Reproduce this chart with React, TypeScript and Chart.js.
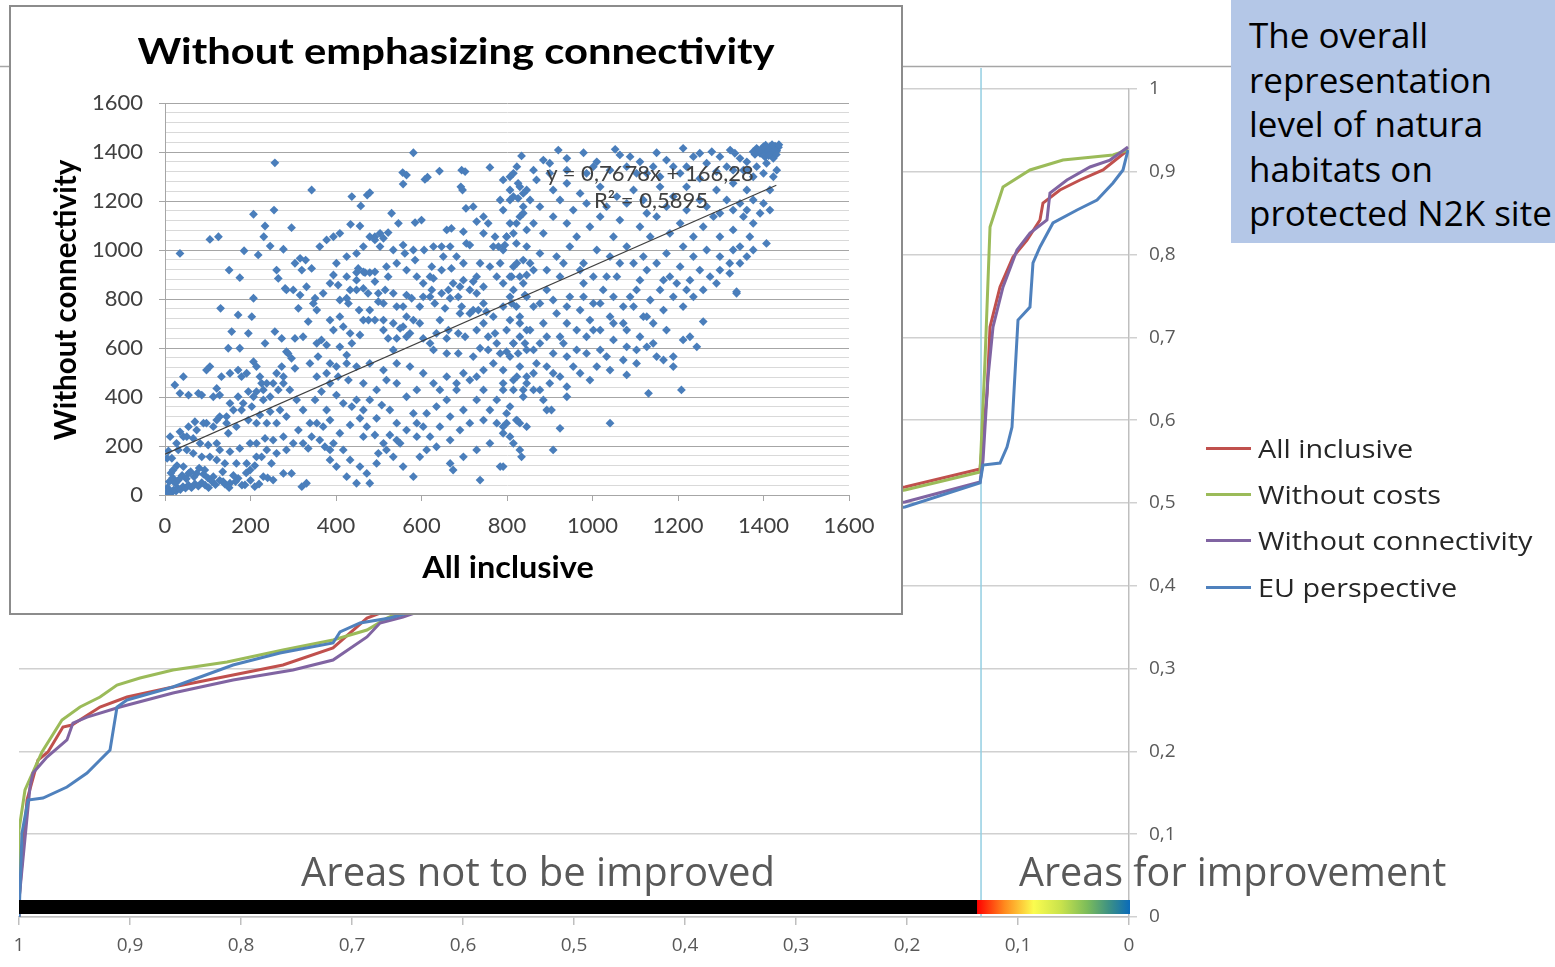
import React, { useEffect, useRef } from "react";
import { Chart, registerables } from "chart.js";
Chart.register(...registerables);

// ---------- main chart data (x runs from 1 to 0) ----------
const seriesNames = ["All inclusive", "Without costs", "Without connectivity", "EU perspective"];
const seriesColors = ["#c0504d", "#9bbb59", "#8064a2", "#4f81bd"];
const seriesOrder = [3, 2, 1, 0];

const allInclusive: [number, number][] = [
  [1.0, 0], [1.0, 0.0205], [0.9928, 0.1413], [0.9829, 0.1896], [0.9739, 0.1993], [0.9604, 0.2295],
  [0.9523, 0.2319], [0.927, 0.2536], [0.9027, 0.2657], [0.8613, 0.2778], [0.8072, 0.2923],
  [0.7622, 0.3043], [0.7171, 0.3249], [0.6865, 0.3611], [0.6, 0.405], [0.5, 0.448], [0.4, 0.48],
  [0.3, 0.5], [0.2018, 0.5193], [0.1342, 0.5411], [0.1279, 0.6329], [0.1252, 0.7126], [0.1162, 0.7609],
  [0.1045, 0.7971], [0.0919, 0.8176], [0.0802, 0.8418], [0.0775, 0.8623], [0.0622, 0.878],
  [0.0441, 0.8901], [0.0234, 0.9022], [0.0009, 0.9263],
];
const withoutCosts: [number, number][] = [
  [1.0, 0], [1.0, 0.1051], [0.9946, 0.1534], [0.9793, 0.1993], [0.9613, 0.2379], [0.945, 0.2536],
  [0.927, 0.2657], [0.9117, 0.2802], [0.891, 0.2886], [0.8613, 0.2983], [0.8126, 0.308],
  [0.7622, 0.3225], [0.7171, 0.3345], [0.6865, 0.3466], [0.6685, 0.3611], [0.6, 0.4], [0.5, 0.445],
  [0.4, 0.477], [0.3, 0.497], [0.2018, 0.5157], [0.1342, 0.5374], [0.1297, 0.6727], [0.1252, 0.8333],
  [0.1135, 0.8816], [0.0892, 0.9022], [0.0595, 0.9142], [0.0144, 0.9203], [0.0009, 0.9263],
];
const withoutConnectivity: [number, number][] = [
  [1.0, 0], [1.0, 0.0205], [0.9901, 0.157], [0.9874, 0.1739], [0.9748, 0.1932], [0.9568, 0.2138],
  [0.9514, 0.2343], [0.9387, 0.2415], [0.909, 0.2536], [0.8613, 0.2705], [0.8072, 0.2862],
  [0.7532, 0.2983], [0.7171, 0.3104], [0.6865, 0.3382], [0.6748, 0.3551], [0.6541, 0.3623],
  [0.55, 0.41], [0.45, 0.445], [0.35, 0.472], [0.28, 0.488], [0.2018, 0.5012], [0.1342, 0.5254],
  [0.1315, 0.5519], [0.127, 0.6522], [0.1225, 0.7126], [0.1135, 0.7609], [0.1009, 0.8056],
  [0.0892, 0.8261], [0.0739, 0.8418], [0.0712, 0.8744], [0.0559, 0.8901], [0.0351, 0.9058],
  [0.0171, 0.9142], [0.0009, 0.93],
];
const euPerspective: [number, number][] = [
  [1.0, 0], [0.9973, 0.1014], [0.9919, 0.1413], [0.9784, 0.1437], [0.9568, 0.157], [0.9387, 0.1739],
  [0.927, 0.1896], [0.918, 0.2017], [0.9117, 0.2536], [0.9027, 0.2621], [0.8613, 0.2778],
  [0.8072, 0.3043], [0.7649, 0.3188], [0.7171, 0.3309], [0.7108, 0.3442], [0.6928, 0.3551],
  [0.6658, 0.3611], [0.55, 0.405], [0.45, 0.44], [0.35, 0.467], [0.28, 0.482], [0.2018, 0.4952],
  [0.1342, 0.5242], [0.1315, 0.5459], [0.1162, 0.5483], [0.1099, 0.5676], [0.1054, 0.5918],
  [0.1, 0.721], [0.0892, 0.7367], [0.0865, 0.7899], [0.0802, 0.8092], [0.0685, 0.8382],
  [0.0468, 0.8539], [0.0288, 0.8659], [0.0144, 0.8865], [0.0054, 0.9022], [0.0009, 0.9263],
];
const seriesData = [allInclusive, withoutCosts, withoutConnectivity, euPerspective];
const thresholdX = 0.1333;

// ---------- inset scatter data ----------
const trendLine: [number, number][] = [[0, 166.28], [1430, 1264.2]];
const equationText = "y = 0,7678x + 166,28";
const r2Text = "R² = 0,5895";

const scatterPoints: [number, number][] = [
  [35,986],[257,1356],[343,1245],[105,1043],[125,1054],[207,1146],[255,1163],[234,1098],[231,1054],[296,1091],[246,1016],[277,1003],[218,980],[185,997],[437,1218],[458,1180],[473,1224],[479,1234],[434,1105],[456,1098],[394,1054],[378,1041],[362,1014],[409,1068],[479,1054],[491,1041],[503,1068],[522,1071],[530,1150],[546,1109],[556,1316],[565,1306],[557,1269],[581,1397],[585,1112],[600,1122],[608,1288],[614,1297],[642,1322],[694,1326],[702,1320],[692,1258],[696,1245],[704,1170],[760,1337],[784,1204],[807,1245],[826,1272],[834,1384],[807,1204],[826,1211],[838,1177],[830,1136],[815,1068],[822,1109],[756,1109],[772,1054],[780,1014],[795,1020],[729,1116],[698,1075],[705,1027],[713,1020],[628,1014],[647,1014],[659,1082],[670,1088],[581,1000],[606,1000],[557,1020],[561,986],[585,959],[511,1048],[491,1054],
  [130,762],[150,918],[175,887],[207,803],[203,728],[171,735],[156,667],[195,660],[148,599],[175,599],[234,619],[257,667],[273,639],[261,918],[265,884],[281,843],[284,837],[300,837],[304,946],[316,966],[329,959],[320,918],[343,925],[331,850],[316,816],[351,803],[347,782],[312,762],[335,708],[323,646],[304,639],[284,585],[288,578],[386,714],[409,728],[417,687],[394,673],[366,633],[355,619],[378,612],[409,605],[425,571],[433,660],[437,619],[456,653],[464,714],[476,714],[491,714],[479,755],[454,755],[429,782],[425,803],[409,796],[448,837],[464,843],[448,877],[475,823],[479,908],[468,908],[448,908],[452,925],[491,871],[499,823],[515,837],[522,891],[518,932],[534,823],[542,769],[565,816],[577,803],[557,769],[565,728],[581,714],[596,701],[604,639],[565,646],[542,639],[522,639],[511,673],[511,714],[534,592],[550,680],[624,932],[628,884],[647,918],[670,925],[674,864],[663,837],[690,850],[698,877],[721,871],[713,837],[686,809],[729,823],[745,782],[733,755],[752,748],[713,741],[690,741],[655,762],[631,782],[620,809],[643,714],[663,673],[635,660],[620,619],[659,639],[686,660],[702,646],[729,673],[756,646],[772,660],[776,619],[756,592],[737,599],[721,565],[686,578],[659,578],[628,592],[807,714],[822,769],[842,816],[815,837],[791,864],[811,891],[846,898],[838,959],[815,932],[784,946],[791,1000],[842,619],[826,578],[799,585],
  [394,898],[405,857],[425,891],[433,837],[464,911],[491,911],[499,789],[511,782],[534,701],[557,687],[573,660],[596,769],[604,809],[624,837],[647,823],[667,803],[694,769],[721,755],[745,701],[768,728],[791,769],[811,782],[830,701],[846,673],[815,619],[784,578],[768,537],[745,510],[713,469],[682,429],[659,388],[635,361],[612,333],[589,293],[565,265],[542,224],[518,184],[495,129],[472,88],[448,48],[425,75],[401,116],[386,184],[362,224],[339,293],[323,347],[308,388],[292,429],[277,456],[253,456],[230,429],[207,401],[183,374],[160,347],[144,320],[121,306],[97,293],[74,265],[51,238],[27,211],
  [355,755],[370,823],[386,864],[401,946],[425,973],[448,986],[464,1014],[503,1014],[534,1000],[542,946],[565,918],[589,891],[604,864],[620,891],[651,973],[682,973],[737,946],[760,932],[776,891],[745,850],[729,891],[698,946],[667,1014],[745,1068],[768,1014],[799,1054],[822,1027],[846,1082],[745,1136],[721,1177],[791,1163],[846,1245],[815,1313],[791,1286],
  [43,483],[23,449],[35,415],[55,408],[78,415],[97,510],[105,524],[86,408],[113,401],[121,435],[128,408],[132,483],[152,497],[171,510],[179,483],[191,497],[207,544],[214,524],[222,483],[226,456],[238,456],[261,497],[273,524],[296,558],[304,517],[277,483],[265,429],[246,401],[230,388],[214,422],[195,422],[171,401],[152,374],[179,347],[203,361],[222,327],[246,340],[269,347],[284,320],[261,293],[238,293],[214,293],[195,306],[167,279],[148,252],[144,293],[128,320],[113,279],[90,293],[70,299],[55,279],[35,258],[43,238],[12,238],[66,231],[82,211],[101,204],[121,211],[128,184],[152,177],[175,190],[199,211],[214,211],[234,231],[253,224],[277,238],[300,211],[312,265],[323,211],[335,190],[343,238],[284,184],[261,170],[238,184],[226,156],[214,156],[191,129],[167,129],[140,129],[121,143],[105,156],[86,156],[66,170],[51,184],[31,184],[16,150],[19,102],[43,116],[55,88],[74,88],[93,102],[113,75],[136,54],[152,48],[171,68],[187,41],[210,34],[199,102],[230,75],[253,61],[277,88],[296,88],[320,34],[331,48],[249,129],
  [0,0],[4,8],[8,4],[12,14],[16,10],[20,20],[26,16],[30,28],[36,22],[42,34],[48,28],[55,40],[62,30],[70,45],[78,36],[86,50],[94,40],[102,30],[110,55],[118,42],[128,60],[140,45],[6,30],[10,55],[18,70],[24,48],[32,62],[40,80],[50,66],[60,95],[68,74],[80,110],[90,85],[100,70],[14,90],[28,120],[150,30],[165,55],[180,40],[160,80],[135,95],[200,60],[220,45],[240,70],[190,90],[210,120],[5,150],[8,180],
  [355,293],[370,279],[386,306],[378,347],[351,388],[366,422],[386,456],[405,483],[429,469],[401,408],[417,374],[437,361],[448,388],[456,313],[433,286],[409,252],[394,211],[374,197],[386,143],[417,184],[433,143],[456,116],[479,48],[499,170],[511,211],[491,245],[464,238],[472,279],[495,313],[464,347],[479,388],[507,367],[526,347],[542,293],[526,245],[550,211],[534,156],[557,116],[581,75],[596,156],[612,184],[589,238],[604,279],[581,333],[565,401],[589,429],[542,456],[518,469],[495,429],[464,456],[448,524],[425,537],[401,524],[378,497],[355,483],[339,537],[358,565],[386,537],[479,537],[511,510],[542,537],[573,524],[604,497],[628,456],[643,429],[659,483],[682,456],[698,497],[729,483],[745,429],[729,388],[698,347],[667,320],[643,279],[620,238],[635,197],[667,224],[690,265],[713,293],[745,306],[760,347],[776,388],[791,429],[815,469],[838,429],[846,483],[776,293],[791,252],[760,211],[729,184],[698,156],[667,129],[674,102],[737,61],[784,116],[815,211],[834,156],[799,293],[822,306],[846,279],
  [885,1367],[920,1408],[940,1374],[979,1397],[1010,1360],[1053,1411],[1064,1388],[1088,1381],[1111,1360],[1150,1397],[1173,1367],[1212,1415],[1236,1381],[1251,1395],[1279,1401],[1298,1381],[1322,1408],[1333,1395],[1345,1374],[1361,1360],
  [1384,1415],[1400,1422],[1415,1422],[1427,1424],[1435,1419],[1407,1401],[1392,1395],[1419,1395],[1431,1405],[1376,1401],[1403,1381],[1423,1374],[1395,1410],[1410,1412],[1425,1410],[1430,1390],[1412,1385],[1388,1405],[1420,1430],[1405,1428],[1380,1390],[1436,1430],
  [823,1340],[862,1326],[900,1354],[940,1326],[986,1313],[1002,1340],[1080,1340],[1103,1313],[1142,1340],[1189,1340],[1220,1340],[1267,1354],[1314,1340],[1353,1326],[1384,1340],[1407,1354],[1431,1326],[807,1299],[838,1231],[877,1177],[924,1204],[955,1163],[986,1190],[1033,1177],[1080,1190],[1127,1150],[1173,1177],[1220,1163],[1267,1177],[1298,1150],[1329,1163],[1361,1163],[1392,1150],[1415,1163],
  [900,1313],[869,1286],[830,1258],[815,1218],[854,1204],[908,1245],[940,1272],[971,1231],[1018,1258],[1057,1218],[1096,1245],[1119,1204],[1158,1258],[1189,1218],[1220,1258],[1251,1204],[1290,1245],[1329,1272],[1361,1245],[1376,1299],[1400,1313],[1423,1299],[1376,1204],[1345,1190],[1314,1204],[1400,1190],[1415,1245],[1364,1326],[1329,1326],[1290,1320],[1251,1292],[1205,1313],[1158,1299],[1127,1313],[1041,1326],
  [838,1150],[807,1109],[799,1054],[862,1109],[885,1068],[908,1136],[940,1109],[963,1054],[994,1095],[1018,1136],[1049,1054],[1064,1122],[1111,1095],[1135,1054],[1150,1136],[1181,1068],[1205,1109],[1236,1054],[1259,1095],[1283,1136],[1298,1054],[1329,1082],[1353,1136],[1376,1109],[1368,1054],[1329,1000],[1345,946],[1407,1027],[1298,973],[1267,1000],[1236,973],[1212,1014],[1173,986],[1150,946],[1119,973],[1080,1014],[1041,973],[1010,1000],[979,946],[947,1014],[916,973],[877,986],[846,1014],[823,946],
  [1345,1014],[1376,1000],[1361,973],[1321,905],[1290,864],[1259,837],[1220,837],[1197,864],[1166,877],[1127,918],[1096,946],[1064,946],[1033,891],[1002,891],[971,918],[932,946],[893,918],[854,946],[830,891],[807,809],[846,809],[877,782],[908,796],[940,769],[979,809],[1018,782],[1049,809],[1072,769],[1103,837],[1127,728],[1080,673],[1049,701],[1002,673],[963,673],[924,646],[893,646],[854,673],[830,646],[862,592],[940,565],[986,578],[1010,524],[971,497],[908,497],[869,537],[823,483],[862,429],[893,347],[830,293],[807,238],[940,401],[1033,565],[1072,551],[1103,592],[1150,565],
  [807,891],[838,864],[862,918],[893,837],[924,891],[947,809],[979,864],[1002,782],[1025,837],[1057,891],[1088,809],[1111,877],[1135,796],[1158,837],[1181,891],[1205,932],[1228,877],[1251,918],[1275,891],[1298,918],[1321,946],[1337,823],[1236,809],[1212,769],[1189,809],[1166,755],[1142,701],[1173,673],[1212,633],[1228,646],[1244,605],[1259,708],[1119,728],[1096,769],[1072,701],[1041,728],[1018,673],[994,714],[971,755],[940,701],[916,741],[885,701],[862,769],[830,728],[799,673],[815,619],[846,592],[877,619],[908,578],[932,619],[963,592],[986,646],[1018,592],[1049,633],[1080,605],[1111,646],[1127,605],[1142,619],[1189,565],
  [807,565],[791,510],[830,524],[862,497],[893,524],[924,483],[955,524],[994,469],[1041,510],[1080,490],[1103,537],[1166,551],[1189,524],[791,456],[815,429],[846,456],[877,429],[900,456],[940,442],[885,388],[838,401],[807,361],[799,333],[823,306],[791,279],[830,184],[791,116],[904,347],[924,272],[908,184],[1041,293],[1131,415],[1208,429],[1337,830],
];

const fmtComma = (v: number) => String(Math.round(v * 10) / 10).replace(".", ",");

const overlayPlugin = {
  id: "overlayMain",
  beforeDatasetsDraw(chart: any) {
    const { ctx, chartArea } = chart;
    const xs = chart.scales.x;
    ctx.save();
    ctx.strokeStyle = "#a6a6a6";
    ctx.lineWidth = 1.5;
    ctx.beginPath();
    ctx.moveTo(0, 66.5);
    ctx.lineTo(chart.width, 66.5);
    ctx.stroke();
    const tx = xs.getPixelForValue(thresholdX);
    ctx.strokeStyle = "#94cfe2";
    ctx.lineWidth = 1.5;
    ctx.beginPath();
    ctx.moveTo(tx, 68);
    ctx.lineTo(tx, chartArea.bottom);
    ctx.stroke();
    ctx.restore();
  },
  afterDatasetsDraw(chart: any) {
    const { ctx, chartArea } = chart;
    const xs = chart.scales.x;
    const tx = xs.getPixelForValue(thresholdX);
    const x1 = xs.getPixelForValue(1);
    const x0 = xs.getPixelForValue(0);
    const top = chartArea.bottom - 17;
    const h = 14;
    ctx.save();
    ctx.fillStyle = "#000";
    ctx.fillRect(x1, top, tx - 3 - x1, h);
    const g = ctx.createLinearGradient(tx - 4, 0, x0 + 1, 0);
    g.addColorStop(0, "#ff0000");
    g.addColorStop(0.18, "#ff8a1e");
    g.addColorStop(0.37, "#fbfc4f");
    g.addColorStop(0.55, "#c8e24c");
    g.addColorStop(0.72, "#7cbc5a");
    g.addColorStop(0.86, "#3e9283");
    g.addColorStop(1, "#0a6bba");
    ctx.fillStyle = g;
    ctx.fillRect(tx - 4, top, x0 + 1 - (tx - 4), h);
    ctx.restore();
  },
};

export default function App() {
  const mainRef = useRef<HTMLCanvasElement>(null);
  const insetRef = useRef<HTMLCanvasElement>(null);

  useEffect(() => {
    const tickFont = { family: "'Open Sans', sans-serif", size: 19 };
    const main = new Chart(mainRef.current as HTMLCanvasElement, {
      type: "line",
      data: {
        datasets: seriesNames.map((name, i) => ({
          label: name,
          data: seriesData[i].map(([x, y]) => ({ x, y })),
          borderColor: seriesColors[i],
          backgroundColor: seriesColors[i],
          borderWidth: 3,
          pointRadius: 0,
          tension: 0,
          fill: false,
          order: seriesOrder[i],
        })),
      },
      options: {
        animation: false,
        responsive: false,
        devicePixelRatio: 1,
        layout: { padding: { left: 19, top: 89, right: 0, bottom: 0 } },
        plugins: { legend: { display: false }, tooltip: { enabled: false }, title: { display: false } },
        scales: {
          x: {
            type: "linear",
            min: 0,
            max: 1,
            reverse: true,
            position: "bottom",
            afterFit: (s: any) => { s.height = 50; },
            ticks: { stepSize: 0.1, autoSkip: false, maxRotation: 0, padding: 9, color: "#595959", font: tickFont, callback: (v: any) => fmtComma(Number(v)) },
            grid: { drawOnChartArea: false, tickLength: 8, color: "#bfbfbf", lineWidth: 1.5 },
            border: { color: "#bfbfbf", width: 1.5 },
          },
          y: {
            type: "linear",
            position: "right",
            min: 0,
            max: 1,
            afterFit: (s: any) => { s.width = 426; },
            ticks: { stepSize: 0.1, autoSkip: false, padding: 12, color: "#595959", font: tickFont, callback: (v: any) => fmtComma(Number(v)) },
            grid: { color: "#d0d0d0", lineWidth: 1.5, tickLength: 8 },
            border: { color: "#bfbfbf", width: 1.5 },
          },
        },
      } as any,
      plugins: [overlayPlugin],
    });

    const insetFont = { family: "Lato, sans-serif", size: 22 };
    const inset = new Chart(insetRef.current as HTMLCanvasElement, {
      type: "scatter",
      data: {
        datasets: [
          {
            type: "line",
            label: "trend",
            data: trendLine.map(([x, y]) => ({ x, y })),
            borderColor: "#3f3f3f",
            borderWidth: 1.2,
            pointRadius: 0,
            tension: 0,
            order: 0,
          } as any,
          {
            type: "scatter",
            label: "points",
            data: scatterPoints.map(([x, y]) => ({ x, y })),
            pointStyle: "rectRot",
            pointRadius: 4.4,
            backgroundColor: "#4a7ebb",
            borderWidth: 0,
            order: 1,
          },
        ],
      },
      options: {
        animation: false,
        responsive: false,
        devicePixelRatio: 1,
        layout: { padding: { left: 0, top: 96, right: 52, bottom: 0 } },
        plugins: { legend: { display: false }, tooltip: { enabled: false } },
        scales: {
          x: {
            type: "linear",
            min: 0,
            max: 1600,
            afterFit: (s: any) => { s.height = 118; },
            ticks: { stepSize: 200, autoSkip: false, maxRotation: 0, padding: 12, color: "#404040", font: insetFont, callback: (v: any) => String(v) },
            grid: { drawOnChartArea: false, tickLength: 6, color: "#a6a6a6" },
            border: { color: "#a6a6a6" },
          },
          y: {
            type: "linear",
            min: 0,
            max: 1600,
            afterFit: (s: any) => { s.width = 154; },
            ticks: {
              stepSize: 40,
              autoSkip: false,
              padding: 16,
              color: "#404040",
              font: insetFont,
              callback: (v: any) => (Number(v) % 200 === 0 ? String(v) : ""),
            },
            grid: {
              tickLength: 6,
              color: (c: any) => (c.tick && c.tick.value % 200 === 0 ? "#a6a6a6" : "#d9d9d9"),
              tickColor: (c: any) => (c.tick && c.tick.value % 200 === 0 ? "#a6a6a6" : "rgba(0,0,0,0)"),
            },
            border: { color: "#a6a6a6" },
          },
        },
      } as any,
    });

    return () => {
      main.destroy();
      inset.destroy();
    };
  }, []);

  const legendTop = [448, 494, 540, 587];

  return (
    <div style={{ position: "absolute", left: 0, top: 0, width: 1555, height: 967, overflow: "hidden", background: "#fff", fontFamily: "'Open Sans', sans-serif" }}>
      <canvas ref={mainRef} width={1555} height={967} style={{ position: "absolute", left: 0, top: 0, display: "block" }} />

      {/* Areas labels */}
      <div style={{ position: "absolute", left: 238, top: 847, width: 600, textAlign: "center", fontSize: 40, lineHeight: "48px", color: "#595959", whiteSpace: "nowrap" }}>
        Areas not to be improved
      </div>
      <div style={{ position: "absolute", left: 1019, top: 847, fontSize: 39.5, lineHeight: "48px", color: "#595959", whiteSpace: "nowrap" }}>
        Areas for improvement
      </div>

      {/* legend */}
      {seriesNames.map((name, i) => (
        <div key={name} style={{ position: "absolute", left: 1206, top: legendTop[i] - 17, height: 34, whiteSpace: "nowrap" }}>
          <div style={{ position: "absolute", left: 0, top: 15.5, width: 45, height: 3, background: seriesColors[i] }} />
          <div style={{ position: "absolute", left: 52, top: 0, fontSize: 25, lineHeight: "34px", color: "#262626", transform: "scaleX(1.15)", transformOrigin: "0 50%" }}>{name}</div>
        </div>
      ))}

      {/* blue text box */}
      <div style={{ position: "absolute", left: 1231, top: 0, width: 324, height: 243, background: "#b4c7e7", overflow: "hidden", boxSizing: "border-box", paddingLeft: 18, paddingTop: 13, fontSize: 35, lineHeight: "44.5px", color: "#000", whiteSpace: "nowrap" }}>
        The overall<br />representation<br />level of natura<br />habitats on<br />protected N2K site
      </div>

      {/* inset scatter */}
      <div style={{ position: "absolute", left: 9, top: 5, width: 894, height: 610, boxSizing: "border-box", border: "2px solid #8c8c8c", background: "#fff" }}>
        <canvas ref={insetRef} width={890} height={606} style={{ position: "absolute", left: 0, top: 0, display: "block" }} />
        <div style={{ position: "absolute", left: 0, top: 22, width: 890, textAlign: "center", fontFamily: "Lato, sans-serif", fontWeight: 700, fontSize: 36, lineHeight: "42px", color: "#000", whiteSpace: "nowrap", transform: "scaleX(1.16)", transformOrigin: "445px 50%" }}>
          Without emphasizing connectivity
        </div>
        <div style={{ position: "absolute", left: 54 - 160, top: 293 - 20, width: 320, height: 40, lineHeight: "40px", textAlign: "center", transform: "rotate(-90deg)", fontFamily: "Lato, sans-serif", fontWeight: 700, fontSize: 29.5, color: "#000", whiteSpace: "nowrap" }}>
          Without connectivity
        </div>
        <div style={{ position: "absolute", left: 497 - 150, top: 560 - 20, width: 300, lineHeight: "40px", textAlign: "center", fontFamily: "Lato, sans-serif", fontWeight: 700, fontSize: 29.5, color: "#000", whiteSpace: "nowrap", transform: "scaleX(1.1)", transformOrigin: "150px 50%" }}>
          All inclusive
        </div>
        <div style={{ position: "absolute", left: 639 - 150, top: 154, width: 300, lineHeight: "24px", textAlign: "center", fontFamily: "Lato, sans-serif", fontSize: 22, color: "#404040", whiteSpace: "nowrap" }}>
          {equationText}
        </div>
        <div style={{ position: "absolute", left: 640 - 150, top: 181, width: 300, lineHeight: "24px", textAlign: "center", fontFamily: "Lato, sans-serif", fontSize: 22, color: "#404040", whiteSpace: "nowrap" }}>
          {r2Text}
        </div>
      </div>
    </div>
  );
}
